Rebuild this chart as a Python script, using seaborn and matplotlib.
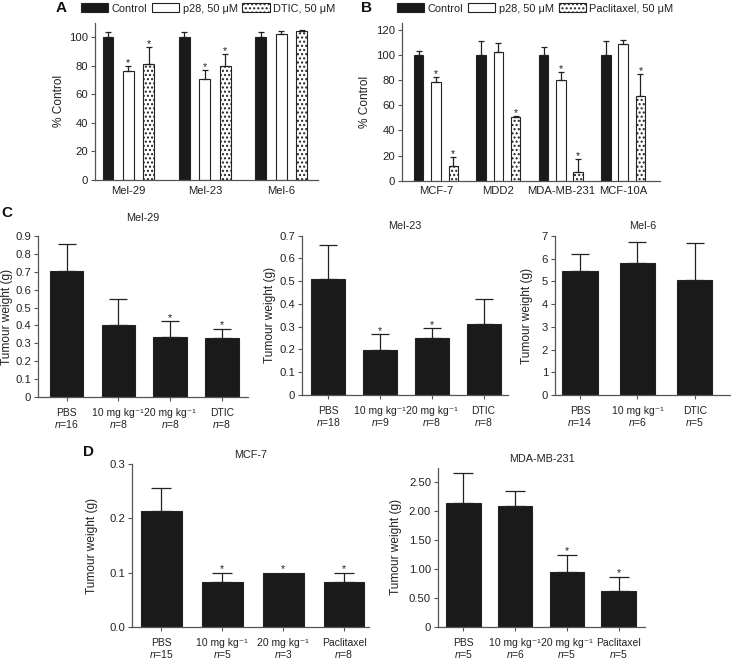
import numpy as np
import pandas as pd
import matplotlib
matplotlib.use('Agg')
import matplotlib.pyplot as plt
import seaborn as sns
from matplotlib.patches import Patch

# ---------------- data ----------------
# Panel A (in vitro, melanoma)
a_cells = ['Mel-29', 'Mel-23', 'Mel-6']
a_treatments = ['Control', 'p28, 50 μM', 'DTIC, 50 μM']
a_control = [100, 100, 100]
a_control_err = [3.5, 3.5, 3.8]
a_p28 = [76.5, 70.5, 102]
a_p28_err = [3.5, 6.5, 2]
a_dtic = [81, 79.5, 104.4]
a_dtic_err = [12, 8.5, 0.4]
a_p28_sig = [True, True, False]
a_dtic_sig = [True, True, False]

# Panel B (in vitro, breast)
b_cells = ['MCF-7', 'MDD2', 'MDA-MB-231', 'MCF-10A']
b_treatments = ['Control', 'p28, 50 μM', 'Paclitaxel, 50 μM']
b_control = [100, 100, 100, 100]
b_control_err = [3, 11, 6, 11]
b_p28 = [78.3, 102.4, 80, 108.7]
b_p28_err = [3.7, 7, 6, 3.3]
b_pac = [11.6, 50.8, 6.6, 67.5]
b_pac_err = [7.4, 0.5, 10.4, 17]
b_p28_sig = [True, False, True, False]
b_pac_sig = [True, True, True, True]

# Panel C (xenografts, melanoma)
DOSE10 = '10 mg kg\u207b\u00b9'
DOSE20 = '20 mg kg\u207b\u00b9'

c1_title = 'Mel-29'
c1_groups = ['PBS', DOSE10, DOSE20, 'DTIC']
c1_n = ['16', '8', '8', '8']
c1_mean = [0.703, 0.40, 0.338, 0.33]
c1_err = [0.153, 0.147, 0.085, 0.05]
c1_sig = [False, False, True, True]

c2_title = 'Mel-23'
c2_groups = ['PBS', DOSE10, DOSE20, 'DTIC']
c2_n = ['18', '9', '8', '8']
c2_mean = [0.508, 0.198, 0.249, 0.31]
c2_err = [0.151, 0.068, 0.044, 0.112]
c2_sig = [False, True, True, False]

c3_title = 'Mel-6'
c3_groups = ['PBS', DOSE10, 'DTIC']
c3_n = ['14', '6', '5']
c3_mean = [5.46, 5.8, 5.05]
c3_err = [0.74, 0.95, 1.63]
c3_sig = [False, False, False]

# Panel D (xenografts, breast)
d1_title = 'MCF-7'
d1_groups = ['PBS', DOSE10, DOSE20, 'Paclitaxel']
d1_n = ['15', '5', '3', '8']
d1_mean = [0.2126, 0.083, 0.1, 0.083]
d1_err = [0.044, 0.017, 0.0, 0.017]
d1_sig = [False, True, True, True]

d2_title = 'MDA-MB-231'
d2_groups = ['PBS', DOSE10, DOSE20, 'Paclitaxel']
d2_n = ['5', '6', '5', '5']
d2_mean = [2.13, 2.08, 0.94, 0.62]
d2_err = [0.53, 0.26, 0.31, 0.25]
d2_sig = [False, False, True, True]

# ---------------- style ----------------
sns.set_style('ticks')
plt.rcParams['font.family'] = ['Liberation Sans', 'DejaVu Sans']
plt.rcParams['mathtext.fontset'] = 'custom'
plt.rcParams['mathtext.rm'] = 'Liberation Sans'
plt.rcParams['mathtext.it'] = 'Liberation Sans:italic'
plt.rcParams['mathtext.bf'] = 'Liberation Sans:bold'
plt.rcParams['hatch.linewidth'] = 1.0

BAR = '#1a1a1a'
EDGE = '#222222'
TXT = '#222222'
AX = '#555555'
FS_TICK = 8.1     # x tick labels A/B, y tick labels
FS_CAT = 7.5      # category labels C/D
FS_STAR = 7.8
FS_LAB = 8.6      # axis labels
FS_TITLE = 7.8
FS_LEG = 7.9
HATCH = '....'

W, H = 731, 660
fig = plt.figure(figsize=(W / 100, H / 100), dpi=100)


def rect(left, right, bottom, top):
    return [left / W, 1 - bottom / H, (right - left) / W, (bottom - top) / H]


def style_axes(ax, ylabel, ylabel_right_px, left_px, right_px):
    sns.despine(ax=ax)
    for s in ('left', 'bottom'):
        ax.spines[s].set_color(AX)
        ax.spines[s].set_linewidth(0.9)
    ax.tick_params(axis='both', direction='out', length=3, width=0.8,
                   color=AX, labelcolor=TXT, labelsize=FS_TICK, pad=2)
    ax.set_xlabel('')
    ax.set_ylabel(ylabel, fontsize=FS_LAB, color=TXT)
    ax.yaxis.set_label_coords((ylabel_right_px - left_px) / (right_px - left_px), 0.5)


def add_err(ax, x, top, err, capsize, sig, star_pad):
    if err > 0:
        ax.errorbar(x, top, yerr=[[0], [err]], fmt='none', ecolor=EDGE,
                    elinewidth=0.9, capsize=capsize, capthick=0.9, zorder=3)
    if sig:
        ax.annotate('*', (x, top + err), xytext=(0, star_pad),
                    textcoords='offset points', ha='center', va='bottom',
                    fontsize=FS_STAR, color=TXT)


def hue_panel(r, cells, treatments, series, errs, sigs, width, gap, xlim, ylim,
              yticks, ylabel_right_px, lp, rp):
    ax = fig.add_axes(r)
    rows = []
    for t, vals in zip(treatments, series):
        for c, v in zip(cells, vals):
            rows.append({'cell': c, 'treatment': t, 'value': v})
    df = pd.DataFrame(rows)
    pal = {treatments[0]: BAR, treatments[1]: 'white', treatments[2]: 'white'}
    sns.barplot(data=df, x='cell', y='value', hue='treatment', order=cells,
                hue_order=treatments, palette=pal, width=width, gap=gap,
                saturation=1, edgecolor=EDGE, linewidth=0.8, errorbar=None,
                legend=False, ax=ax)
    bar_containers = list(ax.containers)
    for i, cont in enumerate(bar_containers):
        for bar, e, s in zip(cont, errs[i], sigs[i]):
            if i == 2:
                bar.set_hatch(HATCH)
            x = bar.get_x() + bar.get_width() / 2
            add_err(ax, x, bar.get_height(), e, 2.3, s, -1.5)
    ax.set_xlim(*xlim)
    ax.set_ylim(*ylim)
    ax.set_yticks(yticks)
    style_axes(ax, '% Control', ylabel_right_px, lp, rp)
    ax.tick_params(axis='x', length=0, pad=4)
    return ax


def simple_panel(r, groups, ns, means, errs, sigs, title, title_pad, width, xlim,
                 ylim, yticks, yticklabels, ylabel_right_px, lp, rp, capsize):
    ax = fig.add_axes(r)
    df = pd.DataFrame({'group': groups, 'weight': means})
    sns.barplot(data=df, x='group', y='weight', order=groups, color=BAR,
                saturation=1, width=width, edgecolor=EDGE, linewidth=0.8,
                errorbar=None, ax=ax)
    bars = list(ax.patches)
    for bar, e, s in zip(bars, errs, sigs):
        x = bar.get_x() + bar.get_width() / 2
        add_err(ax, x, bar.get_height(), e, capsize, s, -1.0)
    ax.set_xlim(*xlim)
    ax.set_ylim(*ylim)
    ax.set_yticks(yticks)
    ax.set_yticklabels(yticklabels)
    style_axes(ax, 'Tumour weight (g)', ylabel_right_px, lp, rp)
    # two-line category labels, aligned on baselines
    ticks = ax.get_xticks()
    ax.set_xticks(ticks)
    ax.set_xticklabels([''] * len(ticks))
    for t, g, n in zip(ticks, groups, ns):
        ax.annotate(g, xy=(t, 0), xycoords=('data', 'axes fraction'),
                    xytext=(0, -13.5), textcoords='offset points',
                    ha='center', va='baseline', fontsize=FS_CAT, color=TXT)
        ax.annotate('$n$=' + n, xy=(t, 0), xycoords=('data', 'axes fraction'),
                    xytext=(0, -22.6), textcoords='offset points',
                    ha='center', va='baseline', fontsize=FS_CAT, color=TXT)
    ax.set_title(title, fontsize=FS_TITLE, color=TXT, pad=title_pad)
    return ax


# ---------------- Panel A ----------------
axA = hue_panel(rect(95, 318, 180, 22.7), a_cells, a_treatments,
                [a_control, a_p28, a_dtic],
                [a_control_err, a_p28_err, a_dtic_err],
                [[False] * 3, a_p28_sig, a_dtic_sig],
                0.8, 0.47, (-0.436, 2.48), (0, 110), np.arange(0, 101, 20),
                65, 95, 318)

# ---------------- Panel B ----------------
axB = hue_panel(rect(402, 660, 180.7, 23.3), b_cells, b_treatments,
                [b_control, b_p28, b_pac],
                [b_control_err, b_p28_err, b_pac_err],
                [[False] * 4, b_p28_sig, b_pac_sig],
                0.83, 0.45, (-0.545, 3.59), (0, 125), np.arange(0, 121, 20),
                371, 402, 660)


# legends
def legend_handles():
    return [Patch(facecolor=BAR, edgecolor=EDGE, linewidth=0.8),
            Patch(facecolor='white', edgecolor=EDGE, linewidth=0.8),
            Patch(facecolor='white', edgecolor=EDGE, linewidth=0.8, hatch=HATCH)]


for labels, cx in ((a_treatments, 208), (b_treatments, 535)):
    fig.legend(legend_handles(), labels, loc='center',
               bbox_to_anchor=(cx / W, 1 - 8.5 / H), ncol=3, frameon=False,
               fontsize=FS_LEG, handlelength=2.5, handleheight=0.8,
               handletextpad=0.3, columnspacing=0.45, borderpad=0,
               borderaxespad=0, labelcolor=TXT)

# ---------------- Panel C ----------------
simple_panel(rect(38, 248, 397, 236), c1_groups, c1_n, c1_mean, c1_err, c1_sig,
             c1_title, 11, 0.65, (-0.55, 3.5), (0, 0.9),
             np.arange(0, 0.91, 0.1),
             ['0'] + ['%.1f' % v for v in np.arange(0.1, 0.91, 0.1)],
             13, 38, 248, 6.5)
simple_panel(rect(302, 508, 395, 235.7), c2_groups, c2_n, c2_mean, c2_err, c2_sig,
             c2_title, 5, 0.66, (-0.51, 3.47), (0, 0.7),
             np.arange(0, 0.71, 0.1),
             ['0'] + ['%.1f' % v for v in np.arange(0.1, 0.71, 0.1)],
             276, 302, 508, 6.5)
simple_panel(rect(555, 730, 395, 236), c3_groups, c3_n, c3_mean, c3_err, c3_sig,
             c3_title, 5, 0.61, (-0.435, 2.61), (0, 7),
             np.arange(0, 8, 1), [str(v) for v in range(0, 8)],
             533, 555, 730, 6.5)

# ---------------- Panel D ----------------
simple_panel(rect(132, 369, 627, 464), d1_groups, d1_n, d1_mean, d1_err, d1_sig,
             d1_title, 4, 0.67, (-0.48, 3.41), (0, 0.3),
             [0, 0.1, 0.2, 0.3], ['0.0', '0.1', '0.2', '0.3'],
             98, 132, 369, 7)
simple_panel(rect(438, 645, 627, 467.5), d2_groups, d2_n, d2_mean, d2_err, d2_sig,
             d2_title, 4, 0.67, (-0.49, 3.51), (0, 2.75),
             [0, 0.5, 1.0, 1.5, 2.0, 2.5],
             ['0', '0.50', '1.00', '1.50', '2.00', '2.50'],
             402, 438, 645, 7)

# panel letters
for letter, x, y in (('A', 61, 8), ('B', 366, 8), ('C', 7, 213), ('D', 89, 452)):
    fig.text(x / W, 1 - y / H, letter, fontsize=11, fontweight='bold',
             ha='center', va='center', color='#111111')

fig.savefig('out.png', dpi=100)
